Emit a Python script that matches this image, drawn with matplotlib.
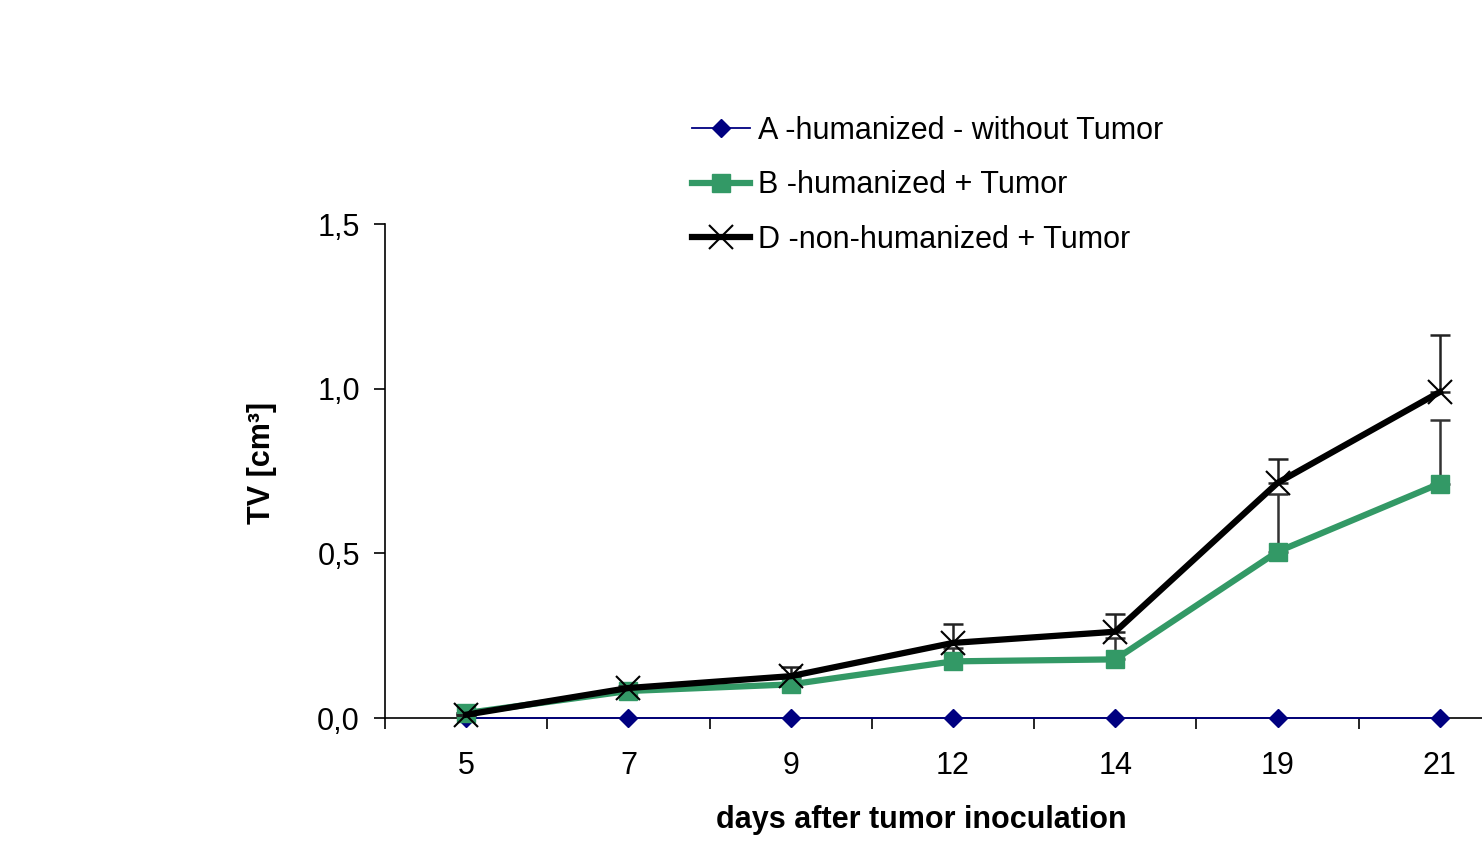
import matplotlib
matplotlib.use("Agg")
import matplotlib.pyplot as plt
from matplotlib.ticker import FixedLocator, FuncFormatter

# ── Data ──────────────────────────────────────────────────────────────────────
days = ["5", "7", "9", "12", "14", "19", "21"]

tv_a = [0.0, 0.0, 0.0, 0.0, 0.0, 0.0, 0.0]
tv_b = [0.015, 0.082, 0.102, 0.172, 0.178, 0.505, 0.712]
tv_d = [0.010, 0.091, 0.127, 0.228, 0.262, 0.714, 0.990]

err_b = [0.0, 0.005, 0.02, 0.04, 0.065, 0.175, 0.193]
err_d = [0.0, 0.005, 0.028, 0.057, 0.055, 0.072, 0.173]

labels = ["A -humanized - without Tumor",
          "B -humanized + Tumor",
          "D -non-humanized + Tumor"]

# ── Figure ────────────────────────────────────────────────────────────────────
plt.rcParams["font.family"] = ["Liberation Sans", "DejaVu Sans"]
FS = 22

W, H = 1482, 841
fig = plt.figure(figsize=(W / 100, H / 100), dpi=100)
ax = fig.add_axes([385 / W, (H - 718) / H, 1136 / W, (718 - 224) / H])

x = list(range(len(days)))

la, = ax.plot(x, tv_a, color="#000080", lw=1.3, marker="D", ms=9,
              mfc="#000080", mec="#000080", zorder=3, clip_on=False)

ax.errorbar(x, tv_b, yerr=[[0] * len(x), err_b], fmt="none",
            ecolor="#333333", elinewidth=1.8, capsize=7, capthick=1.8, zorder=4)
lb, = ax.plot(x, tv_b, color="#339966", lw=4.5, marker="s", ms=13,
              mfc="#339966", mec="#339966", zorder=5, clip_on=False)

ax.errorbar(x, tv_d, yerr=[[0] * len(x), err_d], fmt="none",
            ecolor="#222222", elinewidth=1.8, capsize=7, capthick=1.8, zorder=6)
ld, = ax.plot(x, tv_d, color="black", lw=4.5, marker="x", ms=17, mew=1.5,
              zorder=7, clip_on=False)

# ── Axes styling ──────────────────────────────────────────────────────────────
ax.set_xlim(-0.5, len(days) - 0.5)
ax.set_ylim(0, 1.5)

for s in ["top", "right"]:
    ax.spines[s].set_visible(False)
ax.spines["left"].set_linewidth(1.2)
ax.spines["bottom"].set_linewidth(1.2)

ax.yaxis.set_major_locator(FixedLocator([0, 0.5, 1.0, 1.5]))
ax.yaxis.set_major_formatter(FuncFormatter(lambda v, p: f"{v:.1f}".replace(".", ",")))
ax.tick_params(axis="y", direction="out", length=8, width=1.2, labelsize=FS, pad=10)

ax.set_xticks(x)
ax.set_xticklabels(days)
ax.set_xticks([i - 0.5 for i in range(len(days) + 1)], minor=True)
ax.tick_params(axis="x", which="major", length=0, labelsize=FS, pad=24)
ax.tick_params(axis="x", which="minor", direction="out", length=8, width=1.2)

fig.text(262 / W, (H - 463) / H, "TV [cm³]", rotation=90, fontsize=FS,
         fontweight="bold", ha="center", va="center")
fig.text(921 / W, (H - 820) / H, "days after tumor inoculation", fontsize=FS,
         fontweight="bold", ha="center", va="center")

fig.legend([la, lb, ld], labels, loc="upper left",
           bbox_to_anchor=(692 / W, (H - 116) / H), frameon=False,
           fontsize=FS, handlelength=1.9, handletextpad=0.27,
           labelspacing=0.8, borderpad=0, borderaxespad=0)

fig.savefig("out.png", dpi=100)
